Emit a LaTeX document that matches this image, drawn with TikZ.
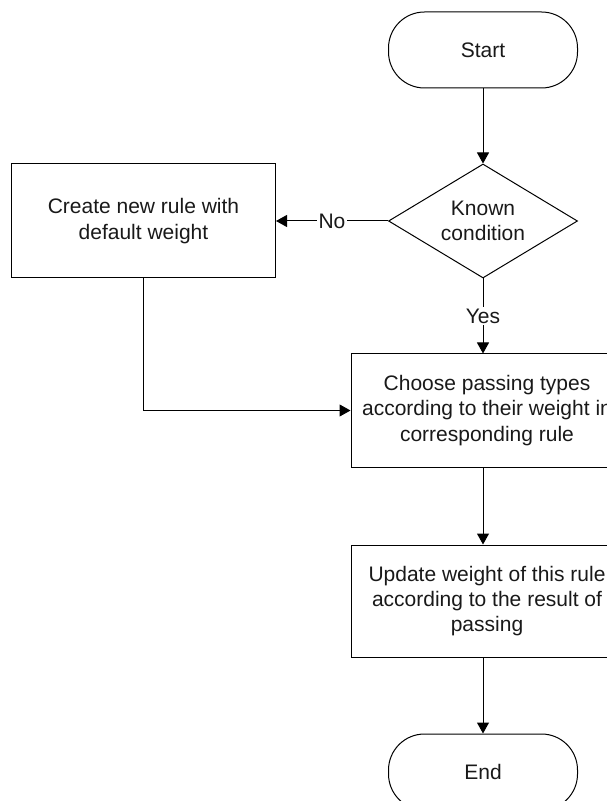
\documentclass[tikz,border=0pt]{standalone}
\usepackage{fontspec}
\setmainfont{Liberation Sans}
\usepackage{tikz}
\usetikzlibrary{shapes.geometric, arrows.meta, positioning}

\begin{document}
\begin{tikzpicture}[x=0.5pt, y=-0.5pt,
    every node/.style={font=\fontsize{10.5}{12.6}\selectfont, text=black!90},
    terminal/.style={rectangle, draw, rounded corners=18pt, minimum width=94.5pt, minimum height=38pt},
    decision/.style={diamond, draw, aspect=1.66, inner sep=0pt, minimum width=94.5pt, minimum height=57pt, align=center},
    process/.style={rectangle, draw, minimum width=136pt, align=center},
    flow/.style={-{Triangle[length=5.5pt, width=6pt]}, line width=0.5pt}]
    \useasboundingbox (0,0) rectangle (606,801);

    \node (start) [terminal, line width=0.5pt] at (483,50) {Start};
    \node (known) [decision, line width=0.5pt, below=37.5pt of start] {Known\\condition};
    \node (create) [process, line width=0.5pt, minimum width=132pt, minimum height=57pt, left=56pt of known] {Create new rule with\\default weight};
    \node (choose) [process, line width=0.5pt, minimum height=56.5pt, below=37.5pt of known, xshift=2pt] {Choose passing types\\according to their weight in\\corresponding rule};
    \node (update) [process, line width=0.5pt, minimum height=56pt, below=38.5pt of choose] {Update weight of this rule\\according to the result of\\passing};
    \node (end) [terminal, line width=0.5pt, below=38pt of update.south -| known] {End};

    \draw [flow] (start) -- (known);
    \draw [flow] (known) -- node[fill=white, inner sep=1pt] {No} (create);
    \draw [flow] (known.south) -- node[fill=white, inner sep=1pt] {Yes} (known.south |- choose.north);
    \draw [flow] (create.south) |- (choose.west);
    \draw [flow] (known |- choose.south) -- (known |- update.north);
    \draw [flow] (known |- update.south) -- (end);
\end{tikzpicture}
\end{document}
